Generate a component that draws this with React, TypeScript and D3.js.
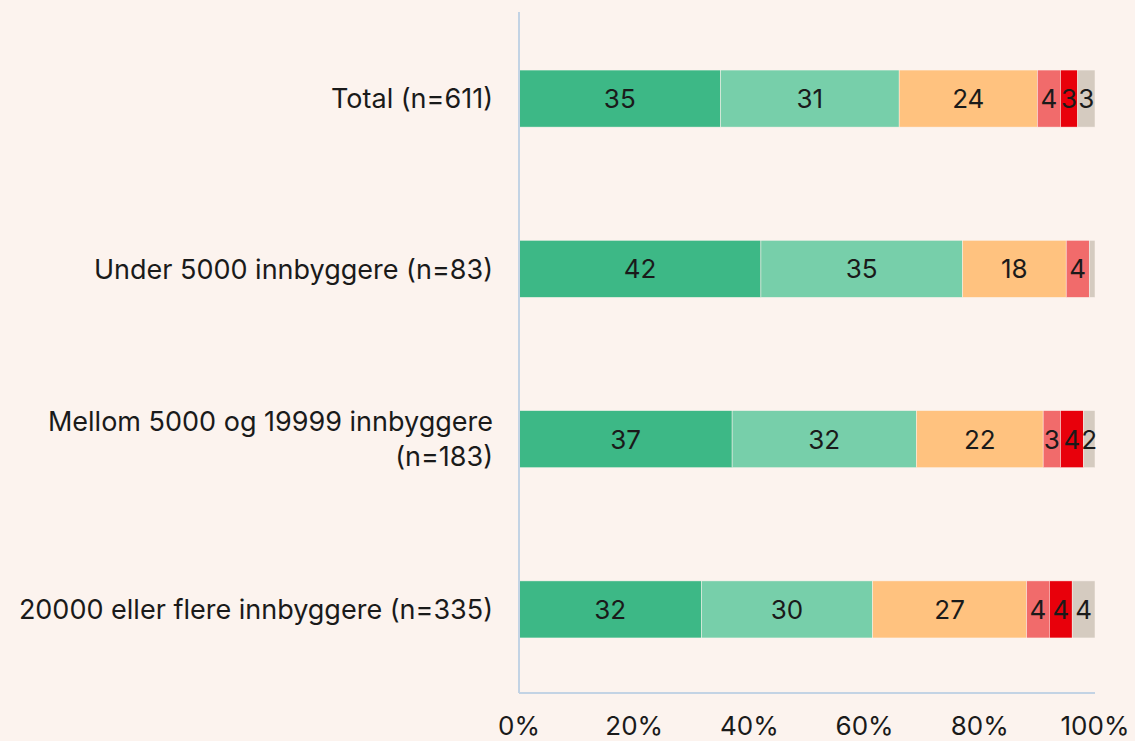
import React, { useEffect, useRef } from 'react';
import * as d3 from 'd3';

const categories = [
  'Total (n=611)',
  'Under 5000 innbyggere (n=83)',
  'Mellom 5000 og 19999 innbyggere|(n=183)',
  '20000 eller flere innbyggere (n=335)',
];

const seriesKeys = ['s1', 's2', 's3', 's4', 's5', 's6'];
const s1 = [35, 42, 37, 32];
const s2 = [31, 35, 32, 30];
const s3 = [24, 18, 22, 27];
const s4 = [4, 4, 3, 4];
const s5 = [3, 0, 4, 4];
const s6 = [3, 1, 2, 4];

const colors = ['#3db886', '#77cfaa', '#ffc27f', '#f16b6b', '#e8000b', '#d5cbc0'];
const tickValues = [0, 0.2, 0.4, 0.6, 0.8, 1];

const W = 1135;
const H = 741;
const FONT = 'Inter, "Noto Sans", sans-serif';

export default function App() {
  const svgRef = useRef<SVGSVGElement>(null);

  useEffect(() => {
    document.body.style.margin = '0';
    if (!svgRef.current) return;
    const svg = d3.select(svgRef.current);
    svg.selectAll('*').remove();

    const margin = { top: 12, right: 40, bottom: 48, left: 519 };

    const rows = categories.map((c, i) => ({
      cat: c,
      s1: s1[i], s2: s2[i], s3: s3[i], s4: s4[i], s5: s5[i], s6: s6[i],
    }));

    const stack = d3.stack<any>().keys(seriesKeys).offset(d3.stackOffsetExpand);
    const series = stack(rows);

    const x = d3.scaleLinear().domain([0, 1]).range([margin.left, W - margin.right]);
    const y = d3.scaleBand<string>()
      .domain(categories)
      .range([margin.top + 1, H - margin.bottom + 2])
      .paddingInner(0.665)
      .paddingOuter(0.335);

    svg.append('rect').attr('width', W).attr('height', H).attr('fill', '#fcf3ee');

    // bars
    const g = svg.append('g');
    series.forEach((s, si) => {
      g.selectAll(null)
        .data(s)
        .enter()
        .append('rect')
        .attr('x', d => x(d[0]))
        .attr('y', d => y(d.data.cat)!)
        .attr('width', d => Math.max(0, x(d[1]) - x(d[0])))
        .attr('height', y.bandwidth())
        .attr('fill', colors[si])
        .attr('stroke', '#fcf3ee')
        .attr('stroke-width', 0.5);
    });

    // value labels
    series.forEach((s, si) => {
      g.selectAll(null)
        .data(s.filter(d => (d.data as any)[seriesKeys[si]] >= 2))
        .enter()
        .append('text')
        .attr('x', d => (x(d[0]) + x(d[1])) / 2)
        .attr('y', d => y(d.data.cat)! + y.bandwidth() / 2)
        .attr('dy', '0.36em')
        .attr('text-anchor', 'middle')
        .attr('font-family', FONT)
        .attr('font-size', 26)
        .attr('fill', '#1a1a1a')
        .text(d => (d.data as any)[seriesKeys[si]]);
    });

    // axes lines
    const axisColor = '#c3d3e4';
    svg.append('line')
      .attr('x1', x(0)).attr('x2', x(0))
      .attr('y1', margin.top).attr('y2', H - margin.bottom)
      .attr('stroke', axisColor).attr('stroke-width', 2);
    svg.append('line')
      .attr('x1', x(0)).attr('x2', x(1))
      .attr('y1', H - margin.bottom).attr('y2', H - margin.bottom)
      .attr('stroke', axisColor).attr('stroke-width', 2);

    // x tick labels
    svg.append('g')
      .selectAll('text')
      .data(tickValues)
      .enter()
      .append('text')
      .attr('x', d => x(d))
      .attr('y', 726)
      .attr('dy', '0.36em')
      .attr('text-anchor', 'middle')
      .attr('font-family', FONT)
      .attr('font-size', 26)
      .attr('fill', '#1a1a1a')
      .text(d => d3.format('.0%')(d));

    // category labels
    const lab = svg.append('g');
    categories.forEach(c => {
      const lines = c.split('|');
      const cy = y(c)! + y.bandwidth() / 2;
      const lh = 35;
      lines.forEach((ln, li) => {
        lab.append('text')
          .attr('x', 493)
          .attr('y', cy + (li - (lines.length - 1) / 2) * lh)
          .attr('dy', '0.36em')
          .attr('text-anchor', 'end')
          .attr('font-family', FONT)
          .attr('font-size', 27)
          .attr('fill', '#1a1a1a')
          .text(ln);
      });
    });
  }, []);

  return <svg ref={svgRef} width={W} height={H} style={{ display: 'block' }}></svg>;
}
